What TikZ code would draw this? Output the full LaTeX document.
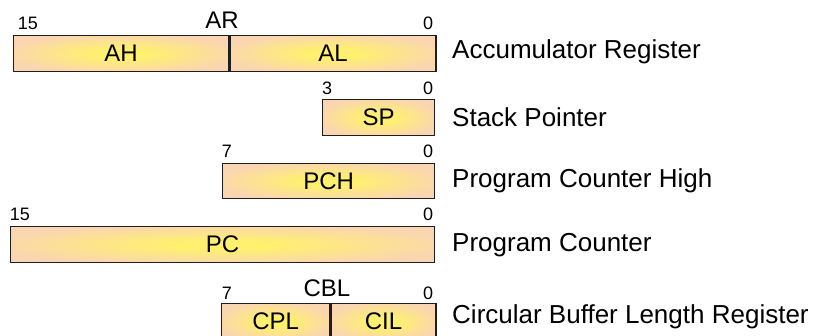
\documentclass[tikz,border=0pt]{standalone}
\usepackage{fontspec}
\setmainfont{Liberation Sans}
\definecolor{regpeach}{RGB}{250,213,178}
\definecolor{regyellow}{RGB}{255,240,110}
\definecolor{regline}{RGB}{30,30,30}
\pgfdeclareradialshading{regfill}{\pgfpoint{0bp}{0bp}}{color(0bp)=(regyellow); color(6bp)=(regyellow); color(28bp)=(regpeach); color(50bp)=(regpeach)}
\tikzset{
  reg/.style={draw=regline, line width=1.3pt, shade, shading=regfill, minimum height=36pt, inner sep=0pt, anchor=north west, font=\fontsize{24}{27}\selectfont},
  bit/.style={anchor=base, inner sep=0pt, font=\fontsize{18}{21}\selectfont},
  regname/.style={anchor=base, inner sep=0pt, font=\fontsize{24}{27}\selectfont},
  desc/.style={anchor=west, inner sep=0pt, font=\fontsize{26}{30}\selectfont}
}
\begin{document}
\begin{tikzpicture}[x=1pt,y=-1pt]
  \useasboundingbox (0,0) rectangle (813,336);

  % Accumulator register
  \node[reg, minimum width=215pt] (AH) at (13,35) {AH};
  \node[reg, minimum width=206pt] (AL) at (AH.north east) {AL};
  \node[bit] (arhi) at (28,30) {15};
  \node[regname] (AR) at (222,29) {AR};
  \node[bit] (arlo) at (428,30) {0};
  \node[desc] (ardesc) at (452,52) {Accumulator Register};

  % Stack pointer
  \node[reg, minimum width=112pt] (SP) at (322,99) {SP};
  \node[bit] (sphi) at (327,95) {3};
  \node[bit] (splo) at (428,95) {0};
  \node[desc] (spdesc) at (452,117) {Stack Pointer};

  % Program counter high
  \node[reg, minimum width=212pt, minimum height=35pt] (PCH) at (222,163) {PCH};
  \node[bit] (pchhi) at (227,158) {7};
  \node[bit] (pchlo) at (428,158) {0};
  \node[desc] (pchdesc) at (452,181) {Program Counter High};

  % Program counter
  \node[reg, minimum width=424pt] (PC) at (10,226) {PC};
  \node[bit] (pchi) at (20,221) {15};
  \node[bit] (pclo) at (428,221) {0};
  \node[desc] (pcdesc) at (452,245) {Program Counter};

  % Circular buffer length register
  \node[reg, minimum width=108pt] (CPL) at (221,303) {CPL};
  \node[reg, minimum width=105pt] (CIL) at (CPL.north east) {CIL};
  \node[bit] (cblhi) at (227,299) {7};
  \node[regname] (CBL) at (327,297) {CBL};
  \node[bit] (cbllo) at (428,299) {0};
  \node[desc] (cbldesc) at (452,317) {Circular Buffer Length Register};
\end{tikzpicture}
\end{document}
